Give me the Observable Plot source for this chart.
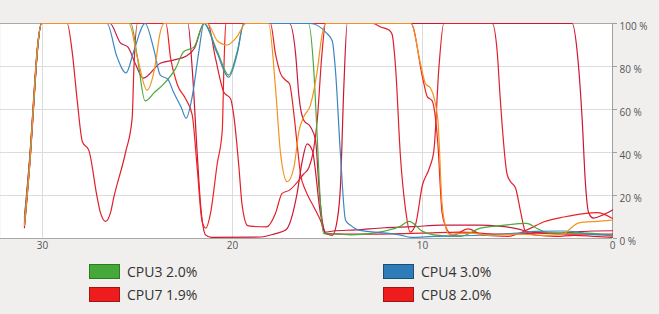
<!DOCTYPE html>
<html><head><meta charset="utf-8">
<script src="https://cdn.jsdelivr.net/npm/d3@7"></script>
<script src="https://cdn.jsdelivr.net/npm/@observablehq/plot@0.6"></script>
<style>
html,body{margin:0;padding:0;background:#f0efee;width:659px;height:314px;overflow:hidden;font-family:"Open Sans",sans-serif;position:relative;}
#chart svg{display:block}
.item{position:absolute;display:flex;align-items:center;font-size:14px;color:#333;white-space:pre;line-height:15px}
.sw{width:29px;height:13px;border:1px solid;margin-right:7px}
</style></head><body>
<div id="chart"></div>
<script>
// time axis (seconds ago) and percentage ticks
const xTicks = [30, 20, 10, 0];
const yTicks = [0, 20, 40, 60, 80, 100];

// series: [seconds ago, % usage]
const cpu1 = [[30.95,7],[30.63,41],[30.46,64],[30.28,87],[30.05,100],
  [26.45,100],[25.9,91],[25.5,89],[25.1,81],[24.7,74.6],[23.8,81.5],[23.1,83],[22.4,85],[22.0,88.5],[21.5,100],
  [17.0,100],[16.68,86],[16.5,66],[16.25,55],[15.9,52],[15.63,45.7],[15.45,24],[15.28,8.5],[15.1,3],[14.7,3.5],[13.5,4],[12,5],[10.5,5.5],[9,6.2],[7,6.2],[6,5.8],[5,4.5],[4.3,3],[3,2.5],[2,3],[1,3.5],[0,3.6]];
const cpu2 = [[30.95,6],[30.63,40],[30.46,63],[30.28,86],[30.05,100],
  [18.0,100],[17.74,86],[17.47,76.7],[17.2,73.6],[17.0,72],[16.77,58],[16.6,44],[16.42,30],[16.16,22.5],[15.72,14.7],[15.37,8.5],[15.1,2.3],[13,2],[10,2.5],[8,3],[6,2],[4,2.5],[2,2],[0,2]];
const cpu3 = [[30.95,9],[30.63,41],[30.46,64],[30.28,87],[30.05,100],
  [25.35,100],[25.0,84],[24.6,64],[24.1,68],[23.6,72],[23.0,79],[22.56,87],[22.03,89],[21.5,100],
  [20.8,87],[20.2,76],[19.75,87],[19.4,100],
  [16.0,100],[15.72,78],[15.54,47],[15.37,16],[15.2,2.3],[14.4,2],[13.8,1.7],[12.6,2.5],[11.2,5.6],[10.7,8],[10.0,3.3],[9.4,1.7],[8.0,1],[6.95,4.8],[5.9,6],[4.5,7],[4.0,4.8],[3.3,2.5],[1.3,2.5],[0,1]];
const cpu4 = [[30.95,7],[30.63,40],[30.46,63],[30.28,86],[30.05,100],
  [26.6,100],[26.1,85],[25.6,77],[25.2,87],[24.6,100],[24.14,88],[23.8,76],[23.4,74],[23.1,68],[22.7,61],[22.44,56],[22.1,67],[21.77,87],[21.5,100],
  [20.8,86],[20.2,75],[19.75,86],[19.4,100],
  [15.9,100],[15.1,96],[14.75,92],[14.58,78],[14.32,39.5],[14.05,8.5],[13.8,6.2],[13.35,3.9],[12.9,3.3],[11.9,2.5],[11.2,1.7],[10.6,0.5],[9.4,1],[7,1.5],[5,2.5],[4.1,3.3],[2.7,3.5],[1.86,3.1],[1.3,2],[0,1.5]];
const cpu5 = [[30.95,6],[30.63,40],[30.46,64],[30.28,87],[30.05,100],
  [25.45,100],[25.0,84],[24.5,69],[24.1,79],[23.8,96],[23.6,100],
  [21.33,100],[20.8,92],[20.3,90],[19.75,94],[19.3,100],
  [18.1,100],[17.74,70.5],[17.47,39.5],[17.12,26.4],[16.77,33],[16.5,50],[16.25,56.6],[15.9,62],[15.54,78],[15.28,95],[15.1,100],
  [10.6,100],[10.1,81],[9.84,72],[9.58,70],[9.2,56],[8.97,16],[8.8,6],[8.6,2],[7.5,2.5],[6.5,1.5],[5,2],[3.5,1.5],[2.6,2],[2.3,4],[1.77,7.3],[0.8,8],[0,8.5]];
const cpu6 = [[30.95,8],[30.63,42],[30.46,65],[30.28,87],[30.05,100],
  [28.7,100],[28.44,87],[28.17,64],[27.9,45],[27.56,41],[27.12,19],[26.95,12],[26.68,8],[26.42,12],[26.25,19],[25.63,40],[25.28,56],[25.19,79],[25.0,100],
  [21.3,100],[20.9,84],[20.45,68],[20.1,65],[19.93,57],[19.66,33],[19.5,16],[19.2,6],[18.9,5.6],[18.2,5.4],[17.74,11.6],[17.39,21],[17.0,22.5],[16.25,30],[15.98,33],[15.72,42],[15.54,55],[15.3,85],[15.1,100],
  [12.6,100],[12.2,98.4],[11.77,97],[11.6,95],[11.42,80],[11.16,38],[10.9,14],[10.65,3],[10.37,6.4],[10.0,25],[9.67,32],[9.4,41],[9.14,79],[8.88,100],
  [6.33,100],[6.07,87],[5.9,64],[5.55,30],[5.37,26.5],[5.1,23.4],[4.84,12.6],[4.58,3.3],[4,1.5],[3,1],[2,1.5],[1,1],[0,0.5]];
const cpu7 = [[30.95,10],[30.63,43],[30.46,66],[30.28,88],[30.05,100],
  [23.5,100],[23.26,84],[22.9,71.5],[22.47,65],[22.12,57.5],[21.86,33],[21.6,8],[21.4,4.8],[21.16,11.6],[20.8,35],[20.54,50],[20.45,80],[20.35,100],
  [10.6,100],[10.0,75],[9.75,66],[9.49,64],[9.2,45],[8.97,12],[8.8,6],[8.4,1.5],[7.6,4.5],[6.8,1.5],[5.5,1],[4.5,4],[3.6,7.8],[2.56,10],[1.5,11.6],[0.8,12],[0,9.3]];
const cpu8 = [[30.95,5],[30.63,39],[30.46,62],[30.28,86],[30.05,100],
  [22.35,100],[22.12,79],[21.86,40],[21.68,15.7],[21.42,1.7],[21.1,0.5],[18.5,0.7],[17.74,2.3],[17.2,3.9],[16.6,21],[16.33,36],[16.07,44],[15.8,41],[15.37,11.6],[15.1,2.3],[14.75,1.5],[14.49,8.5],[14.32,24],[14.14,70.5],[13.96,100],
  [2.12,100],[1.86,87],[1.6,56],[1.42,25],[1.25,11.8],[1.0,9.5],[0.5,11],[0,13.3]];

const seriesData = [cpu1, cpu2, cpu8, cpu6, cpu7, cpu3, cpu4, cpu5];
const seriesColors = ["#c41c40", "#e52125", "#cc1632", "#e01f2a", "#ee2222", "#4aa83c", "#3a86c3", "#f5921e"];

// legend
const legendNames = ["CPU3", "CPU4", "CPU7", "CPU8"];
const legendValues = ["2.0%", "3.0%", "1.9%", "2.0%"];
const legendFill = ["#47a83a", "#2e7cb8", "#ee1c1c", "#ee1c1c"];
const legendBorder = ["#2d7a22", "#1c4f78", "#a31515", "#a31515"];

const lines = seriesData.map((pts, i) => Plot.line(pts, {
  x: d => d[0], y: d => d[1], stroke: seriesColors[i], strokeWidth: 1.2, curve: "monotone-x"
}));

const chart = Plot.plot({
  width: 659, height: 260,
  marginLeft: 0, marginRight: 47, marginTop: 23, marginBottom: 22,
  style: {background: "transparent", fontFamily: "Open Sans", fontSize: "10px"},
  x: {domain: [32.21, 0], axis: null},
  y: {domain: [0, 100], axis: null},
  marks: [
    Plot.frame({fill: "white", stroke: null}),
    Plot.gridX(xTicks, {stroke: "#dcdcdc", strokeOpacity: 1}),
    Plot.gridY(yTicks, {stroke: "#dcdcdc", strokeOpacity: 1}),
    Plot.ruleY([0, 100], {stroke: "#a9a9a9"}),
    Plot.ruleX([0], {stroke: "#a0a0a0"}),
    ...lines,
    Plot.axisY(yTicks, {anchor: "right", tickSize: 4, stroke: "#a0a0a0", tickFormat: () => ""}),
    Plot.text(yTicks, {x: 0, y: d => d, dx: 7, dy: 3, textAnchor: "start", text: d => `${d} %`, fill: "#555"}),
    Plot.text(xTicks, {x: d => d, frameAnchor: "bottom", dy: 10, text: d => String(d), fill: "#555"})
  ]
});
document.getElementById("chart").appendChild(chart);

const colX = [89, 383], rowY = [264, 287];
legendNames.forEach((name, i) => {
  const el = document.createElement("div");
  el.className = "item";
  el.style.left = colX[i % 2] + "px";
  el.style.top = rowY[Math.floor(i / 2)] + "px";
  const sw = document.createElement("div");
  sw.className = "sw";
  sw.style.background = legendFill[i];
  sw.style.borderColor = legendBorder[i];
  const tx = document.createElement("span");
  tx.textContent = name + " " + legendValues[i];
  el.appendChild(sw); el.appendChild(tx);
  document.body.appendChild(el);
});
</script></body></html>
